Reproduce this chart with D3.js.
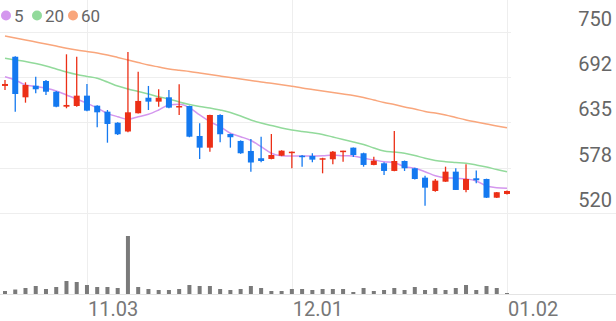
<!DOCTYPE html>
<html lang="ko">
<head>
<meta charset="UTF-8">
<script src="https://d3js.org/d3.v7.min.js"></script>
<style>
  body { margin: 0; background: #fff; font-family: Roboto, "Noto Sans", sans-serif; }
  svg { display: block; }
</style>
</head>
<body>
<script>
// daily candles (index 0..49)
const openP  = [681, 718, 666.6, 681.3, 687.3, 673.7, 654.7, 655.6, 668.7, 656, 648.4, 634.4, 623.3, 646.4, 666.1, 661.1, 666.6, 654, 655.6, 617.6,
                602.8, 644.2, 620.1, 611.3, 598.6, 589.4, 588.5, 592.6, 597, 592.6, 592.3, 588.1, 588.1, 597.3, 602.8, 595.7, 580.9, 583, 573.3, 585.9,
                576.7, 564.8, 547.9, 559.7, 572.4, 549.2, 564, 563.1, 539.4, 544.1];
const highP  = [688.5, 718.5, 685.6, 692.7, 688.6, 674.5, 721.1, 718.1, 683.5, 656.5, 650.5, 635, 724, 699.1, 681, 676.8, 675.9, 683.1, 656, 633.7,
                644.5, 645, 620.5, 612, 613.8, 616.7, 620.1, 599.5, 598, 593.5, 595.7, 590, 598.6, 599, 603, 596.5, 591.4, 584.3, 623.9, 586.5,
                577.5, 567.3, 563.1, 578.7, 576.7, 581.8, 573.7, 563.5, 546.5, 548.5];
const lowP   = [676, 648.4, 659.8, 671.7, 669.5, 654, 652.7, 654.7, 649, 628.6, 609.1, 619, 622.3, 646, 650.5, 654.7, 652.7, 644.2, 616, 588.5,
                597.7, 609.6, 602.8, 595, 572.4, 584.3, 588, 592, 576.7, 578.7, 584.3, 570.3, 581.8, 585.1, 591, 578.7, 580.5, 568.2, 573, 573.3,
                562.5, 529.3, 547, 559.5, 549, 546.3, 557.7, 539, 539, 543.5];
const closeP = [683.5, 670.8, 682.2, 676.8, 673.7, 654.7, 656.9, 668.7, 649.7, 647.6, 632.8, 619.8, 647.6, 662, 661.1, 666.1, 653.5, 655.6, 616.7, 602.8,
                644.2, 619.8, 616, 595.7, 584, 585.9, 593.5, 599, 597.7, 591, 587.6, 589.4, 597.7, 599, 593.5, 580.9, 586.3, 573.3, 585.9, 576.7,
                563.1, 552.1, 561, 572.4, 549.2, 563.1, 561.5, 539.4, 546.3, 547.9];
// volume, thousand shares
const volume = [75, 112, 150, 200, 125, 175, 325, 300, 225, 175, 175, 150, 1450, 175, 125, 100, 100, 125, 225, 200,
                200, 125, 100, 125, 200, 150, 75, 75, 125, 125, 100, 125, 125, 125, 50, 150, 75, 100, 150, 100,
                175, 100, 150, 100, 150, 225, 100, 200, 150, 25];
// moving averages as shown
const ma5  = [692.7, 688.5, 682.2, 680.3, 678, 674.6, 669.5, 664.5, 659, 653.1, 646.3, 642, 638.7, 642, 645.1, 650.5, 656.9, 657.7, 653.4, 644.2,
              635.7, 629.4, 621, 616.7, 611.9, 604, 595.7, 592.6, 592.2, 592.2, 592.2, 592.6, 593.5, 592.6, 592.2, 589.3, 587.2, 585, 583.7, 578.7,
              576.6, 572.3, 567.3, 564.7, 564, 563.1, 560.6, 554.2, 552.1, 551.3];
const ma20 = [716, 713.9, 712, 709.4, 706.3, 702.5, 698.7, 695.5, 693, 690.7, 686, 680.9, 677.1, 674, 670.8, 667.4, 664.5, 660.7, 657.5, 655,
              653.1, 650.5, 647.4, 642.9, 637.9, 634.1, 630.9, 627.7, 625.2, 623.3, 621.6, 619.5, 616.3, 613.1, 610, 606.8, 602.4, 598.6, 597.3, 595.7,
              592.9, 589.3, 586.5, 585, 584, 583, 580.8, 578.3, 575.1, 572.3];
const ma60 = [744.3, 741.8, 739.2, 736.7, 734.2, 731.6, 728.8, 726.6, 724.7, 722.8, 720.2, 717.1, 713.9, 710.7, 707.5, 705, 702.5, 700.8, 699.3, 697.4,
              695.5, 693.6, 691.7, 689.8, 687.9, 686, 684.4, 682.6, 680.6, 678.4, 676.5, 674.6, 672.7, 670.8, 668.9, 666.4, 663.2, 660, 657.5, 654.3,
              651.8, 648.6, 646.7, 644.2, 641, 637.9, 635.3, 632.8, 630.2, 628.1];

const priceTicks = [520, 577.5, 635, 692.5, 750];
const priceTickLabels = ["520", "578", "635", "692", "750"];
const dateTickIdx = [8, 28, 49];
const dateTickLabels = ["11.03", "12.01", "01.02"];
const legendNames = ["5", "20", "60"];

const width = 616, height = 321;
const upColor = "#ec2f16", downColor = "#1479f0";
const maColors = ["#d497ee", "#92da9b", "#f9a67c"];

const svg = d3.select("body").append("svg")
    .attr("width", width)
    .attr("height", height);

const x = d3.scaleLinear().domain([0, 49]).range([5, 507]);
const y = d3.scaleLinear().domain([520, 750]).range([213, 31.5]);
const yVol = d3.scaleLinear().domain([0, d3.max(volume)]).range([294, 236]);

// grid
const grid = svg.append("g").attr("stroke", "#eeeeee").attr("stroke-width", 1);
grid.selectAll("line.h")
    .data(priceTicks.slice(1))
    .enter().append("line")
    .attr("x1", 0).attr("x2", 511)
    .attr("y1", d => Math.round(y(d)) + 0.5)
    .attr("y2", d => Math.round(y(d)) + 0.5);
grid.append("line")
    .attr("x1", 0).attr("x2", width)
    .attr("y1", Math.round(y(520)) + 0.5).attr("y2", Math.round(y(520)) + 0.5);
grid.selectAll("line.v")
    .data(dateTickIdx)
    .enter().append("line")
    .attr("x1", d => Math.round(x(d)) + 0.5).attr("x2", d => Math.round(x(d)) + 0.5)
    .attr("y1", 0).attr("y2", 294);
grid.append("line")
    .attr("x1", 0).attr("x2", width)
    .attr("y1", 294.5).attr("y2", 294.5)
    .attr("stroke", "#e4e4e4");

// price labels
svg.append("g")
    .selectAll("text")
    .data(priceTicks)
    .enter().append("text")
    .attr("x", 612)
    .attr("y", d => y(d) - 6)
    .attr("text-anchor", "end")
    .attr("font-size", 20)
    .attr("fill", "#666")
    .text((d, i) => priceTickLabels[i]);

// date labels
svg.append("g")
    .selectAll("text")
    .data(dateTickIdx)
    .enter().append("text")
    .attr("x", d => x(d) + 1)
    .attr("y", 316)
    .attr("font-size", 20)
    .attr("fill", "#777")
    .text((d, i) => dateTickLabels[i]);

// volume
svg.append("g")
    .selectAll("rect")
    .data(volume)
    .enter().append("rect")
    .attr("x", (d, i) => x(i) - 2)
    .attr("width", 4)
    .attr("y", d => yVol(d))
    .attr("height", d => 294 - yVol(d))
    .attr("fill", "#7a7a7a");

// moving averages
const line = d3.line()
    .x((d, i) => x(i))
    .y(d => y(d))
    .curve(d3.curveMonotoneX);
[ma5, ma20, ma60].forEach((s, k) => {
    svg.append("path")
        .datum(s)
        .attr("d", line)
        .attr("fill", "none")
        .attr("stroke", maColors[k])
        .attr("stroke-width", 1.5);
});

// candles
const candles = svg.append("g")
    .selectAll("g")
    .data(openP.map((o, i) => ({ i, o, h: highP[i], l: lowP[i], c: closeP[i] })))
    .enter().append("g")
    .attr("fill", d => d.c >= d.o ? upColor : downColor)
    .attr("stroke", d => d.c >= d.o ? upColor : downColor);

candles.append("line")
    .attr("x1", d => x(d.i)).attr("x2", d => x(d.i))
    .attr("y1", d => y(d.h)).attr("y2", d => y(d.l))
    .attr("stroke-width", 1.3);

candles.append("rect")
    .attr("x", d => x(d.i) - 3)
    .attr("width", 6)
    .attr("y", d => y(Math.max(d.o, d.c)))
    .attr("height", d => Math.max(1.5, Math.abs(y(d.o) - y(d.c))))
    .attr("stroke", "none");

// legend
const legend = svg.append("g");
const legendX = [6, 37, 73];
legendNames.forEach((name, k) => {
    legend.append("circle")
        .attr("cx", legendX[k]).attr("cy", 15.5).attr("r", 5)
        .attr("fill", maColors[k]);
    legend.append("text")
        .attr("x", legendX[k] + 8).attr("y", 21.5)
        .attr("font-size", 17)
        .attr("fill", "#666")
        .text(name);
});
</script>
</body>
</html>
